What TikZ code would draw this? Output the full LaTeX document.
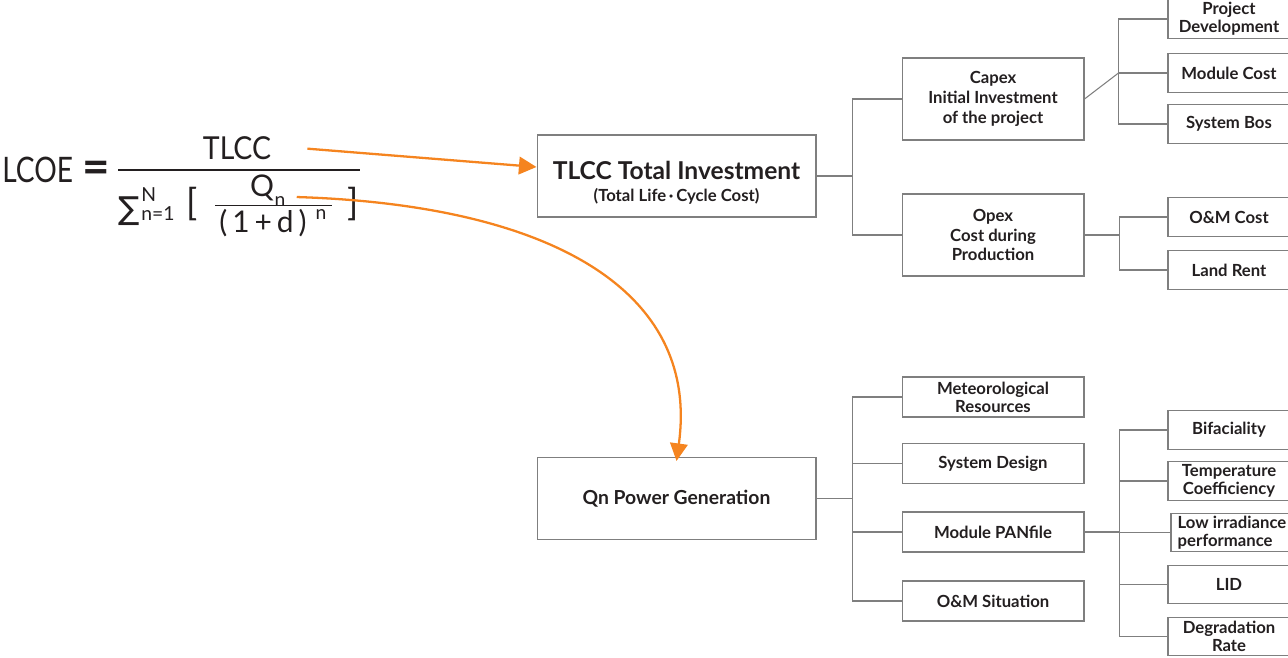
\documentclass[tikz,border=0pt]{standalone}
\usepackage{fontspec}
\setmainfont{Lato}
\newfontfamily\symfont{DejaVu Sans}
\usetikzlibrary{arrows.meta,positioning}

\definecolor{flowOrange}{HTML}{F5841F}
\definecolor{edgeGray}{HTML}{7F7F7F}
\definecolor{inkDark}{HTML}{231F20}

\tikzset{
  box/.style={draw=edgeGray, line width=0.6pt, text=inkDark, align=center, inner sep=0pt,
    font=\bfseries\fontsize{9.5}{10.3}\selectfont},
  mainbox/.style={box, minimum width=5.58cm, minimum height=1.64cm},
  subbox/.style={box, minimum width=3.64cm, minimum height=1.64cm, font=\bfseries\fontsize{9.5}{11.3}\selectfont},
  factbox/.style={box, minimum width=3.64cm, minimum height=0.8cm},
  leafbox/.style={box, minimum width=2.44cm, minimum height=0.77cm},
  link/.style={draw=edgeGray, line width=0.6pt},
  flow/.style={draw=flowOrange, line width=1.3pt, -{Triangle[length=10pt,width=10pt]}},
  mathtext/.style={inner sep=0pt, text=inkDark, anchor=base},
}

\begin{document}
\begin{tikzpicture}[x=0.02cm, y=0.02cm]
  \useasboundingbox (0,0) rectangle (1288,-658);
  \clip (0,0) rectangle (1288,-658);

  % formula
  \node[mathtext, anchor=base west, font=\fontsize{20}{20}\selectfont] (lcoe) at (2,-183) {\scalebox{0.8}[1]{LCOE}};
  \node[mathtext, font=\bfseries\fontsize{27}{27}\selectfont] (eqsign) at (96,-184) {=};
  \node[mathtext, font=\fontsize{18}{18}\selectfont] (tlccnum) at (237,-160) {\scalebox{0.9}[1]{TLCC}};
  \draw[inkDark, line width=1.7pt] (118,-170) -- (360,-170);
  \node[mathtext, font=\symfont\fontsize{18}{18}\selectfont] (sigma) at (129,-220) {∑};
  \node[mathtext, anchor=base west, font=\fontsize{11}{11}\selectfont] (supN) at (141,-202) {N};
  \node[mathtext, anchor=base west, font=\fontsize{11}{11}\selectfont] (subn) at (141,-221) {n=1};
  \node[mathtext, font=\fontsize{21}{21}\selectfont] (lbrack) at (192,-216) {[};
  \node[mathtext, font=\fontsize{17}{17}\selectfont] (qnum) at (262,-197) {Q};
  \node[mathtext, font=\fontsize{11}{11}\selectfont] (qsub) at (280,-207) {n};
  \draw[inkDark, line width=0.8pt] (215,-205.5) -- (332,-205.5);
  \node[mathtext, font=\fontsize{17}{17}\selectfont] (denom) at (263,-233) {(\,1\,+\,d\,)};
  \node[mathtext, font=\fontsize{11}{11}\selectfont] (dsup) at (321,-220) {n};
  \node[mathtext, font=\fontsize{21}{21}\selectfont] (rbrack) at (353,-216) {]};

  % main boxes
  \node[mainbox, font=\bfseries\fontsize{14}{12.5}\selectfont] (tlcc) at (676.5,-176)
    {\rule{0pt}{18pt}TLCC Total Investment\\{\fontsize{9.5}{12.5}\selectfont(Total Life\,·\,Cycle Cost)}};
  \node[mainbox, font=\bfseries\fontsize{11}{12}\selectfont] (qn) at (676.5,-498.5) {Qn Power Generation};

  % cost side
  \node[subbox] (capex) at (993,-99) {Capex\\Initial Investment\\of the project};
  \node[subbox] (opex) at (993,-235) {Opex\\Cost during\\Production};
  \node[leafbox] (projdev) at (1229,-19) {Project\\Development};
  \node[leafbox] (modcost) at (1229,-73) {Module Cost};
  \node[leafbox] (sysbos) at (1229,-124) {System Bos};
  \node[leafbox] (omcost) at (1229,-217) {O\&M Cost};
  \node[leafbox] (landrent) at (1229,-270) {Land Rent};

  % generation side
  \node[factbox] (meteo) at (993,-397) {Meteorological\\Resources};
  \node[factbox] (sysdes) at (993,-463.5) {System Design};
  \node[factbox] (panfile) at (993,-532) {Module PANfile};
  \node[factbox] (omsit) at (993,-601) {O\&M Situation};
  \node[leafbox] (bifac) at (1229,-430) {Bifaciality};
  \node[leafbox] (tempco) at (1229,-481) {Temperature\\Coefficiency};
  \node[leafbox, align=left] (lowirr) at (1232,-532.5) {Low irradiance\\performance};
  \node[leafbox] (lid) at (1229,-584.5) {LID};
  \node[leafbox] (degrad) at (1229,-636.5) {Degradation\\Rate};

  % tree links
  \draw[link] (tlcc.east) -- ++(36,0) coordinate (tb);
  \draw[link] (capex.west) -| (tb) |- (opex.west);
  \coordinate (cb) at ([xshift=-0.98cm]modcost.west);
  \draw[link] (capex.east) -- (cb);
  \draw[link] (projdev.west) -| (cb) |- (sysbos.west);
  \draw[link] (cb) -- (modcost.west);
  \draw[link] (opex.east) -- ++(35,0) coordinate (ob);
  \draw[link] (omcost.west) -| (ob) |- (landrent.west);

  \draw[link] (qn.east) -- ++(36,0) coordinate (qb);
  \draw[link] (meteo.west) -| (qb) |- (omsit.west);
  \draw[link] (qb |- sysdes.west) -- (sysdes.west);
  \draw[link] (qb |- panfile.west) -- (panfile.west);
  \draw[link] (panfile.east) -- ++(35,0) coordinate (pb);
  \draw[link] (bifac.west) -| (pb) |- (degrad.west);
  \draw[link] (pb |- tempco.west) -- (tempco.west);
  \draw[link] (pb |- lowirr.west) -- (lowirr.west);
  \draw[link] (pb |- lid.west) -- (lid.west);

  % orange arrows
  \draw[flow] ([xshift=0.72cm]tlccnum.east) -- ([yshift=0.18cm]tlcc.west);
  \draw[flow] ([xshift=0.22cm,yshift=0.1cm]qsub.east) .. controls (550,-205) and (700,-290) .. ([yshift=-0.08cm]qn.north);
\end{tikzpicture}
\end{document}
